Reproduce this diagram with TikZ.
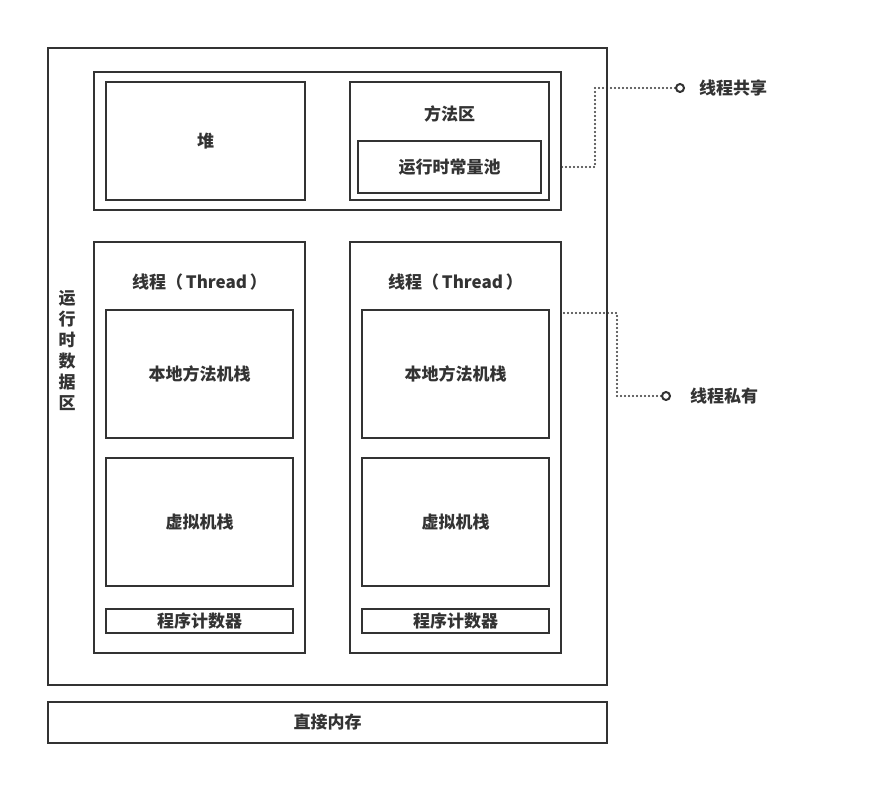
\documentclass[tikz,border=0pt]{standalone}
\usepackage{fontspec}
\setmainfont{Noto Sans CJK SC}
\usetikzlibrary{positioning}
\definecolor{inkgray}{HTML}{333333}
\tikzset{area/.style={draw=inkgray,line width=2pt,inner sep=0pt,shape=rectangle,font=\fontsize{17}{21}\selectfont\bfseries,text=inkgray},
txt/.style={font=\fontsize{17}{21}\selectfont\bfseries,text=inkgray,inner sep=0pt},
link/.style={draw=inkgray,line width=2.2pt,line cap=round,dash pattern=on 0pt off 4pt},
tip/.style={shape=circle,draw=inkgray,line width=2pt,fill=white,inner sep=0pt,minimum size=8pt}}

\begin{document}
\begin{tikzpicture}[x=1pt,y=-1pt]
\useasboundingbox (0,0) rectangle (874,805);

% Runtime data area
\node[area,minimum width=559,minimum height=637] (runtime) at (327.5,366.5) {};
\node[txt,align=center] (runtimeLabel) at (67,351) {运\\行\\时\\数\\据\\区};
\node[area,minimum width=559,minimum height=41] (direct) at (327.5,722.5) {直接内存};

% Shared part
\node[area,minimum width=467,minimum height=138] (shared) at (327.5,141) {};
\node[area,minimum width=199,minimum height=118] (heap) at (205.5,141) {堆};
\node[area,minimum width=199,minimum height=118] (method) at (449.5,141) {};
\node[txt] (methodLabel) at (449.5,114) {方法区};
\node[area,minimum width=183,minimum height=52] (pool) at (449.5,167) {运行时常量池};

% Threads
\foreach \i/\x in {1/199.5,2/455.5} {
\node[area,minimum width=211,minimum height=411] (thread\i) at (\x,447.5) {};
\node[txt] (threadLabel\i) at (\x,282) {线程（\,Thread\,）};
\node[area,minimum width=187,minimum height=128] (native\i) at (\x,374) {本地方法机栈};
\node[area,minimum width=187,minimum height=128] (vm\i) at (\x,522) {虚拟机栈};
\node[area,minimum width=187,minimum height=24] (pc\i) at (\x,621) {程序计数器};
}

% Legend
\node[tip] (sharedDot) at (680,88) {};
\node[txt,right=14pt of sharedDot] (sharedLabel) {线程共享};
\node[tip] (privateDot) at (666,396) {};
\node[txt,right=19pt of privateDot] (privateLabel) {线程私有};
\coordinate (sharedBend) at (595,167);
\coordinate (privateBend) at (617,313);
\draw[link] (shared.east |- pool.center) -- (sharedBend) |- (sharedDot.west);
\draw[link] ([xshift=2pt]thread2.east |- privateBend) -- (privateBend) |- (privateDot.west);

\end{tikzpicture}
\end{document}
